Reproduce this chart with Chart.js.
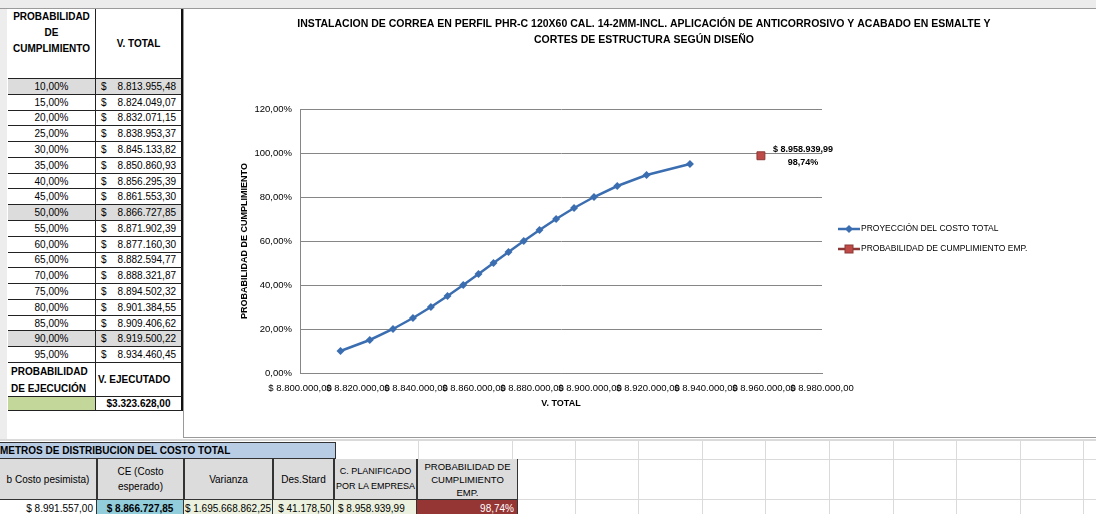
<!DOCTYPE html>
<html lang="es">
<head>
<meta charset="UTF-8">
<title>Proyección del costo total</title>
<script src="https://cdn.jsdelivr.net/npm/chart.js"></script>
<style>
  body { margin: 0; width: 1096px; height: 514px; overflow: hidden; background: #fff;
         font-family: "Liberation Sans", Arial, sans-serif; font-size: 10px; color: #000; position: relative; }
  .c { position: absolute; box-sizing: border-box; display: flex; align-items: center; white-space: nowrap; overflow: hidden; }
  .gl { position: absolute; background: #dadada; }
</style>
</head>
<body>
<div style="position:absolute;left:0;top:0;width:1096px;height:8px;background:#ececec;border-bottom:1px solid #9a9a9a;"></div>
<div style="position:absolute;left:0;top:9px;width:7px;height:431px;background:#ededed;"></div>
<div id="sheet"></div>
<div style="position:absolute;left:183px;top:8px;width:920px;height:430px;border:1px solid #9a9a9a;box-sizing:border-box;background:#fff;">
  <canvas id="grafico" width="912" height="429"></canvas>
</div>

<script>
// datos de la tabla
const probCumplimiento = [10, 15, 20, 25, 30, 35, 40, 45, 50, 55, 60, 65, 70, 75, 80, 85, 90, 95];
const vTotal = [8813955.48, 8824049.07, 8832071.15, 8838953.37, 8845133.82, 8850860.93,
                8856295.39, 8861553.30, 8866727.85, 8871902.39, 8877160.30, 8882594.77,
                8888321.87, 8894502.32, 8901384.55, 8909406.62, 8919500.22, 8934460.45];
const costoPlanificado = 8958939.99;
const probEmpresa = 98.74;
const vEjecutado = 3323628.00;
const costoPesimista = 8991557.00;
const costoEsperado = 8866727.85;
const varianza = 1695668862.25;
const desStard = 41178.50;

const tituloGrafico = [
  'INSTALACION DE CORREA EN PERFIL PHR-C 120X60 CAL. 14-2MM-INCL. APLICACIÓN DE ANTICORROSIVO Y ACABADO EN ESMALTE Y',
  'CORTES DE ESTRUCTURA SEGÚN DISEÑO'
];

function fmtNum(v) {
  const parts = Math.abs(v).toFixed(2).split('.');
  return parts[0].replace(/\B(?=(\d{3})+(?!\d))/g, '.') + ',' + parts[1];
}
function fmtPct(v) { return v.toFixed(2).replace('.', ',') + '%'; }

// ---- hoja (tablas) ----
const sheet = document.getElementById('sheet');
function cell(x, y, w, h, html, css) {
  const d = document.createElement('div');
  d.className = 'c';
  d.style.cssText = `left:${x}px;top:${y}px;width:${w}px;height:${h}px;` + (css || '');
  d.innerHTML = html;
  sheet.appendChild(d);
  return d;
}
function line(x, y, w, h) {
  const d = document.createElement('div');
  d.className = 'gl';
  d.style.cssText = `left:${x}px;top:${y}px;width:${w}px;height:${h}px;`;
  sheet.appendChild(d);
}

// cuadricula de excel debajo del grafico
line(0, 439, 1096, 2);
line(336, 459, 760, 1);
line(518, 499, 578, 1);
[418, 512, 575, 638, 702, 765, 829, 893, 956, 1020, 1083].forEach(x => line(x, 441, 1, 73));

const bR = 'border-right:1px solid #222;border-bottom:1px solid #222;';
const bR2 = 'border-right:2px solid #111;border-bottom:1px solid #222;';
cell(8, 9, 88, 70, 'PROBABILIDAD<br>DE<br>CUMPLIMIENTO',
     bR + 'font-weight:bold;justify-content:center;align-items:flex-start;text-align:center;line-height:16px;padding-top:0;');
cell(96, 9, 87, 70, 'V. TOTAL', bR2 + 'font-weight:bold;justify-content:center;');

const rowH = 15.78;
probCumplimiento.forEach((p, i) => {
  const y = 79 + i * rowH;
  const bg = (i === 0 || i === 8 || i === 16) ? 'background:#dcdcdc;' : '';
  cell(8, y, 88, rowH, fmtPct(p), bR + bg + 'justify-content:center;');
  cell(96, y, 87, rowH, '<span>$</span><span>' + fmtNum(vTotal[i]) + '</span>',
       bR2 + bg + 'justify-content:space-between;padding:0 5px 0 5px;');
});
cell(8, 363, 88, 34, 'PROBABILIDAD<br>DE EJECUCIÓN', bR + 'font-weight:bold;line-height:17px;padding-left:3px;');
cell(96, 363, 87, 34, 'V. EJECUTADO', bR2 + 'font-weight:bold;padding-left:2px;');
cell(8, 397, 88, 14, '', bR + 'background:#c4d79b;');
cell(96, 397, 87, 14, '$' + fmtNum(vEjecutado), bR2 + 'font-weight:bold;justify-content:center;');

// tabla inferior
cell(-1, 442, 337, 17, 'METROS DE DISTRIBUCION DEL COSTO TOTAL',
     'background:#b8cce4;border:1px solid #333;font-weight:bold;padding-left:0;');
const colX = [0, 97, 184, 273, 334, 417, 518];
const encabezados = ['b Costo pesimista)', 'CE (Costo<br>esperado)', 'Varianza', 'Des.Stard',
                     'C. PLANIFICADO<br>POR LA EMPRESA', 'PROBABILIDAD DE<br>CUMPLIMIENTO<br>EMP.'];
const valores = ['$ ' + fmtNum(costoPesimista), '$ ' + fmtNum(costoEsperado), '$ ' + fmtNum(varianza),
                 '$ ' + fmtNum(desStard), '$ ' + fmtNum(costoPlanificado), fmtPct(probEmpresa)];
const fondos = ['#ffffff', '#92cddc', '#ebf1de', '#ebf1de', '#ebf1de', '#963634'];
const alinear = ['justify-content:flex-end;padding-right:3px;', 'justify-content:center;',
                 'justify-content:center;', 'justify-content:flex-end;padding-right:2px;',
                 'justify-content:flex-start;padding-left:4px;', 'justify-content:flex-end;padding-right:3px;'];
encabezados.forEach((t, i) => {
  const w = colX[i + 1] - colX[i];
  let extra = 'line-height:15px;';
  if (i === 4) extra = 'line-height:15px;font-size:9px;';
  if (i === 5) extra = 'align-items:flex-start;line-height:13px;padding-top:1px;font-size:9.5px;';
  cell(colX[i], 459, w, 41, t, 'background:#dcdcdc;border:1px solid #333;border-top:none;border-left:' +
       (i === 0 ? 'none' : '1px solid #333') + ';justify-content:center;text-align:center;' + extra);
  cell(colX[i], 500, w, 16, valores[i], 'background:' + fondos[i] + ';border-right:1px solid #333;' + alinear[i] +
       (i === 1 ? 'font-weight:bold;' : '') + (i === 5 ? 'color:#fff;' : ''));
});

// ---- grafico ----
const fontFam = '"Liberation Sans", Arial, sans-serif';

const tituloExcel = {
  id: 'tituloExcel',
  afterDraw(chart) {
    const ctx = chart.ctx;
    ctx.save();
    ctx.font = 'bold 10.5px ' + fontFam;
    ctx.fillStyle = '#000';
    ctx.textAlign = 'center';
    ctx.textBaseline = 'middle';
    tituloGrafico.forEach((t, i) => ctx.fillText(t, 460, 15 + i * 16));
    ctx.restore();
  }
};

const leyendaExcel = {
  id: 'leyendaExcel',
  afterDraw(chart) {
    const ctx = chart.ctx;
    chart.data.datasets.forEach((ds, i) => {
      const x = 654, y = 220 + i * 20;
      ctx.save();
      ctx.strokeStyle = ds.borderColor;
      ctx.lineWidth = 2.5;
      ctx.beginPath(); ctx.moveTo(x, y); ctx.lineTo(x + 22, y); ctx.stroke();
      ctx.fillStyle = ds.backgroundColor;
      ctx.lineWidth = 1;
      if (ds.pointStyle === 'rect') {
        ctx.fillRect(x + 7, y - 4, 8, 8);
        ctx.strokeRect(x + 7, y - 4, 8, 8);
      } else {
        ctx.beginPath();
        ctx.moveTo(x + 11, y - 4); ctx.lineTo(x + 15, y); ctx.lineTo(x + 11, y + 4); ctx.lineTo(x + 7, y);
        ctx.closePath(); ctx.fill();
      }
      ctx.fillStyle = '#000';
      ctx.font = '8.5px ' + fontFam;
      ctx.textBaseline = 'middle';
      ctx.fillText(ds.label, x + 23, y);
      ctx.restore();
    });
  }
};

const etiquetaPunto = {
  id: 'etiquetaPunto',
  afterDatasetsDraw(chart) {
    const pt = chart.getDatasetMeta(1).data[0];
    const d = chart.data.datasets[1].data[0];
    const ctx = chart.ctx;
    ctx.save();
    ctx.font = 'bold 9px ' + fontFam;
    ctx.fillStyle = '#000';
    ctx.textAlign = 'center';
    ctx.textBaseline = 'middle';
    ctx.fillText('$ ' + fmtNum(d.x), pt.x + 42, pt.y - 6);
    ctx.fillText(fmtPct(d.y), pt.x + 42, pt.y + 7);
    ctx.restore();
  }
};

new Chart(document.getElementById('grafico').getContext('2d'), {
  type: 'scatter',
  data: {
    datasets: [
      {
        label: 'PROYECCIÓN DEL COSTO TOTAL',
        data: vTotal.map((v, i) => ({ x: v, y: probCumplimiento[i] })),
        showLine: true,
        borderColor: '#3b6eb0',
        backgroundColor: '#3b6eb0',
        borderWidth: 2.5,
        pointStyle: 'rectRot',
        pointRadius: 4,
        pointBorderWidth: 0
      },
      {
        label: 'PROBABILIDAD DE CUMPLIMIENTO EMP.',
        data: [{ x: costoPlanificado, y: probEmpresa }],
        borderColor: '#8c3836',
        backgroundColor: '#be4b48',
        pointStyle: 'rect',
        pointRadius: 5.6,
        pointBorderWidth: 1
      }
    ]
  },
  options: {
    responsive: false,
    animation: false,
    layout: { padding: { left: 45, right: 274, top: 100, bottom: 25 } },
    plugins: {
      legend: { display: false },
      tooltip: { enabled: false },
      title: { display: false }
    },
    scales: {
      x: {
        type: 'linear',
        min: 8800000,
        max: 8980000,
        afterFit(scale) { scale.height = 40; },
        grid: { display: false, drawTicks: false },
        border: { display: true, color: '#868686' },
        ticks: {
          stepSize: 20000,
          autoSkip: false,
          maxRotation: 0,
          padding: 10,
          color: '#000',
          font: { family: fontFam, size: 9.5 },
          callback: v => '$ ' + fmtNum(v)
        },
        title: { display: true, text: 'V. TOTAL', color: '#000',
                 font: { family: fontFam, size: 9, weight: 'bold' }, padding: { top: 4, bottom: 4 } }
      },
      y: {
        min: 0,
        max: 120,
        afterFit(scale) { scale.width = 71; },
        grid: { color: '#868686', drawTicks: false },
        border: { display: true, color: '#868686' },
        ticks: {
          stepSize: 20,
          padding: 8,
          color: '#000',
          font: { family: fontFam, size: 9.5 },
          callback: v => fmtPct(v)
        },
        title: { display: true, text: 'PROBABILIDAD DE CUMPLIMIENTO', color: '#000',
                 font: { family: fontFam, size: 9, weight: 'bold' }, padding: { top: 10, bottom: 4 } }
      }
    }
  },
  plugins: [tituloExcel, leyendaExcel, etiquetaPunto]
});
</script>
</body>
</html>
